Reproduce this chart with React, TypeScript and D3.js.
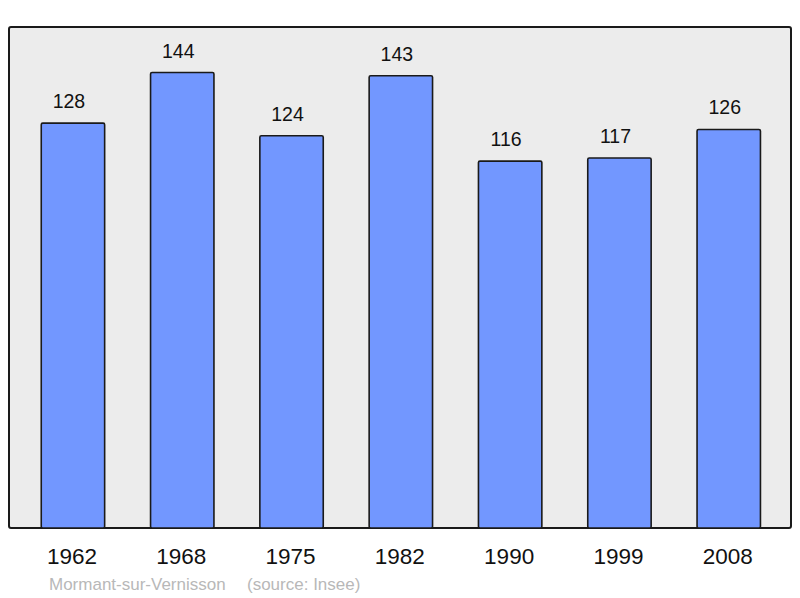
import { useRef, useEffect } from "react";
import * as d3 from "d3";

const years = ["1962", "1968", "1975", "1982", "1990", "1999", "2008"];
const population = [128, 144, 124, 143, 116, 117, 126];
const placeName = "Mormant-sur-Vernisson";
const sourceNote = "(source: Insee)";

export default function App() {
  const svgRef = useRef<SVGSVGElement>(null);

  useEffect(() => {
    if (!svgRef.current) return;
    const width = 800;
    const height = 598;
    const panel = { x: 9, y: 27, w: 782, h: 501 };

    const svg = d3.select(svgRef.current);
    svg.selectAll("*").remove();
    svg.attr("width", width).attr("height", height).attr("viewBox", `0 0 ${width} ${height}`);

    const font = "'Liberation Sans', Arial, sans-serif";

    // Background panel
    svg
      .append("rect")
      .attr("x", panel.x)
      .attr("y", panel.y)
      .attr("width", panel.w)
      .attr("height", panel.h)
      .attr("rx", 2)
      .attr("fill", "#ececec")
      .attr("stroke", "#1a1a1a")
      .attr("stroke-width", 2);

    const xScale = d3
      .scaleBand<string>()
      .domain(years)
      .range([18.3, 783.4])
      .paddingInner(0.42)
      .paddingOuter(0.21);

    const yScale = d3
      .scaleLinear()
      .domain([0, (d3.max(population) ?? 1) * 1.1])
      .range([panel.y + panel.h, panel.y]);

    const data = years.map((y, i) => ({ year: y, value: population[i] }));

    // Bars
    svg
      .selectAll(".bar")
      .data(data)
      .join("rect")
      .attr("class", "bar")
      .attr("x", (d) => xScale(d.year)!)
      .attr("y", (d) => yScale(d.value))
      .attr("width", xScale.bandwidth())
      .attr("height", (d) => yScale(0) - yScale(d.value))
      .attr("rx", 1.5)
      .attr("fill", "#7297ff")
      .attr("stroke", "#1a1a1a")
      .attr("stroke-width", 1.6);

    // Value labels (sit a little left of bar centre, as in the source)
    svg
      .selectAll(".val")
      .data(data)
      .join("text")
      .attr("class", "val")
      .attr("x", (d) => xScale(d.year)! + xScale.bandwidth() / 2 - 4)
      .attr("y", (d) => yScale(d.value) - 15)
      .attr("text-anchor", "middle")
      .style("font-family", font)
      .style("font-size", "19.5px")
      .style("fill", "#111")
      .text((d) => d.value);

    // Year labels
    svg
      .selectAll(".year")
      .data(data)
      .join("text")
      .attr("class", "year")
      .attr("x", (d) => xScale(d.year)! + xScale.bandwidth() / 2 - 1)
      .attr("y", 564)
      .attr("text-anchor", "middle")
      .style("font-family", font)
      .style("font-size", "22.5px")
      .style("fill", "#111")
      .text((d) => d.year);

    // Footer
    svg
      .append("text")
      .attr("x", 49)
      .attr("y", 590)
      .style("font-family", font)
      .style("font-size", "17px")
      .style("fill", "#b8b8b8")
      .text(placeName);
    svg
      .append("text")
      .attr("x", 247)
      .attr("y", 590)
      .style("font-family", font)
      .style("font-size", "17px")
      .style("fill", "#b8b8b8")
      .text(sourceNote);
  }, []);

  return <svg ref={svgRef} style={{ position: "absolute", left: 0, top: 0 }} />;
}
